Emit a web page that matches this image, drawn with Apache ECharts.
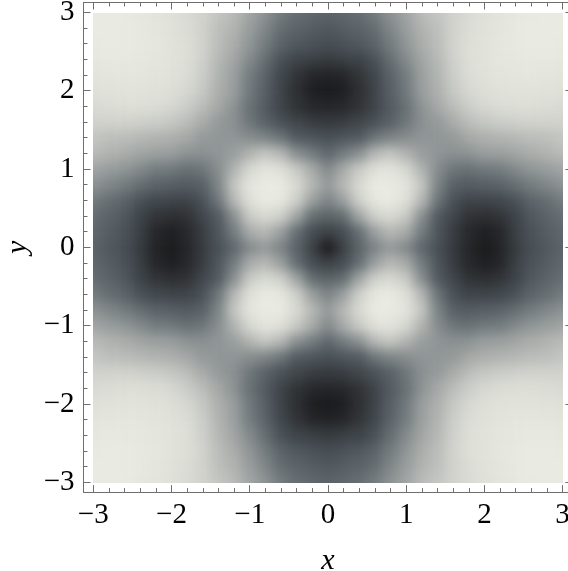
<!DOCTYPE html>
<html>
<head>
<meta charset="utf-8">
<style>
    html, body { margin: 0; padding: 0; background: #fff; overflow: hidden; }
    #plot_clip { position: absolute; left: 93px; top: 13px; width: 469.5px; height: 469.5px; overflow: hidden; }
    #density { position: absolute; left: -60px; top: -60px; width: 590px; height: 590px; filter: blur(6px); }
    #axes { position: absolute; left: 0; top: 0; width: 568px; height: 571px; }
</style>
<script src="https://cdn.jsdelivr.net/npm/echarts@6/dist/echarts.min.js"></script>
</head>
<body>
<div id="plot_clip"><div id="density"></div></div>
<div id="axes"></div>
<script>
// Grid of the density plot, x and y go -3..3 in steps of 0.2
var gridCoords = [-3, -2.8, -2.6, -2.4, -2.2, -2, -1.8, -1.6, -1.4, -1.2, -1, -0.8, -0.6, -0.4, -0.2, 0,
    0.2, 0.4, 0.6, 0.8, 1, 1.2, 1.4, 1.6, 1.8, 2, 2.2, 2.4, 2.6, 2.8, 3];

// One row per y = 0, 0.2 .. 3, one column per x = 0, 0.2 .. 3
var quadrantRows = [
    [ 0, 20, 36, 48, 56, 50, 38, 27, 17,  6,  0,  5, 17, 26, 31, 36],
    [20, 26, 40, 58, 68, 62, 45, 30, 18,  7,  2,  6, 19, 28, 33, 38],
    [36, 40, 60, 80, 85, 76, 52, 32, 22, 13, 11, 14, 21, 31, 36, 40],
    [48, 58, 80, 97, 100, 90, 68, 43, 28, 21, 21, 23, 28, 36, 40, 45],
    [56, 68, 85, 100, 100, 94, 74, 48, 35, 32, 34, 36, 40, 45, 49, 53],
    [50, 62, 76, 90, 94, 84, 66, 51, 43, 41, 44, 45, 50, 54, 57, 60],
    [38, 45, 52, 68, 74, 66, 57, 54, 52, 53, 57, 58, 60, 63, 66, 69],
    [27, 30, 32, 43, 48, 51, 54, 54, 56, 61, 64, 66, 68, 70, 71, 74],
    [17, 18, 22, 28, 35, 43, 52, 56, 62, 70, 75, 78, 80, 81, 81, 81],
    [ 6,  7, 13, 21, 32, 41, 53, 61, 70, 78, 84, 87, 88, 88, 87, 86],
    [ 0,  2, 11, 21, 34, 44, 57, 64, 75, 84, 88, 91, 92, 92, 91, 90],
    [ 5,  6, 14, 23, 36, 45, 58, 66, 78, 87, 91, 94, 95, 96, 95, 94],
    [17, 19, 21, 28, 40, 50, 60, 68, 80, 88, 92, 95, 97, 98, 98, 97],
    [26, 28, 31, 36, 45, 54, 63, 70, 81, 88, 92, 96, 98, 100, 100, 99],
    [31, 33, 36, 40, 49, 57, 66, 71, 81, 87, 91, 95, 98, 100, 100, 100],
    [36, 38, 40, 45, 53, 60, 69, 74, 81, 86, 90, 94, 97, 99, 100, 100]
];

// Ticks
var majorTicks = [-3, -2, -1, 0, 1, 2, 3];
var minorTicks = [-2.8, -2.6, -2.4, -2.2, -1.8, -1.6, -1.4, -1.2, -0.8, -0.6, -0.4, -0.2,
    0.2, 0.4, 0.6, 0.8, 1.2, 1.4, 1.6, 1.8, 2.2, 2.4, 2.6, 2.8];

// Colour ramp of the plot
var ramp = ['#1b1b1d', '#2f3235', '#454c52', '#5f676c', '#848a8c', '#a8acaa', '#c6c8c3', '#dcddd6', '#e9eae2'];

var fontName = '"Liberation Serif"';
var frameColor = '#6e6e6e';


// Density layer
// ------------------------------

// Edge cells get repeated 2 times outwards, the blur needs something to pull from
var PAD = 2;
var paddedCells = [];
var cellData = [];
for (var n = -PAD; n < gridCoords.length + PAD; n++) {
    paddedCells.push(String(n));
}
var quadrantValue = function(ix, iy) {
    var cx = Math.min(Math.abs(ix - 15), 15);
    var cy = Math.min(Math.abs(iy - 15), 15);
    return quadrantRows[cy][cx];
};
for (var iy = -PAD; iy < gridCoords.length + PAD; iy++) {
    for (var ix = -PAD; ix < gridCoords.length + PAD; ix++) {
        cellData.push([ix + PAD, iy + PAD, quadrantValue(ix, iy)]);
    }
}

var density = echarts.init(document.getElementById('density'));
density.setOption({
    animation: false,
    grid: { left: 21.09, top: 20.14, width: 547.6, height: 548.3, outerBoundsMode: 'none' },
    xAxis: { type: 'category', data: paddedCells, show: false },
    yAxis: { type: 'category', data: paddedCells, show: false },
    visualMap: { show: false, min: 0, max: 100, dimension: 2, inRange: { color: ramp } },
    series: [{ type: 'heatmap', data: cellData, progressive: 0, silent: true }]
});


// Frame, ticks and labels
// ------------------------------

var RANGE = 3.125;
var formatTick = function(value) {
    return String(value).replace('-', '\u2212');
};
var makeAxis = function(position, ticks, tickLength, showLine, showLabel, name) {
    var axis = {
        type: 'value',
        position: position,
        min: -RANGE,
        max: RANGE,
        splitLine: { show: false },
        axisLine: { show: showLine, onZero: false, lineStyle: { color: frameColor, width: 1 } },
        axisTick: { show: true, inside: true, length: tickLength, customValues: ticks, lineStyle: { color: frameColor, width: 1 } },
        axisLabel: {
            show: showLabel,
            customValues: ticks,
            formatter: formatTick,
            fontFamily: fontName,
            fontSize: 29,
            color: '#000',
            margin: 9
        }
    };
    if (name) {
        axis.name = name;
        axis.nameLocation = 'middle';
        axis.nameTextStyle = { fontFamily: fontName, fontStyle: 'italic', fontSize: 30, color: '#000' };
    }
    return axis;
};

var xBottom = makeAxis('bottom', majorTicks, 7, true, true, 'x');
xBottom.nameGap = 54;
var yLeft = makeAxis('left', majorTicks, 7, true, true, 'y');
yLeft.nameGap = 47;

var axes = echarts.init(document.getElementById('axes'));
axes.setOption({
    animation: false,
    backgroundColor: 'transparent',
    grid: { left: 83.5, top: 2.5, width: 488.9, height: 489.6, outerBoundsMode: 'none' },
    xAxis: [
        xBottom,
        makeAxis('bottom', minorTicks, 4, false, false),
        makeAxis('top', majorTicks, 7, true, false),
        makeAxis('top', minorTicks, 4, false, false)
    ],
    yAxis: [
        yLeft,
        makeAxis('left', minorTicks, 4, false, false),
        makeAxis('right', majorTicks, 7, true, false),
        makeAxis('right', minorTicks, 4, false, false)
    ],
    series: []
});
</script>
</body>
</html>
